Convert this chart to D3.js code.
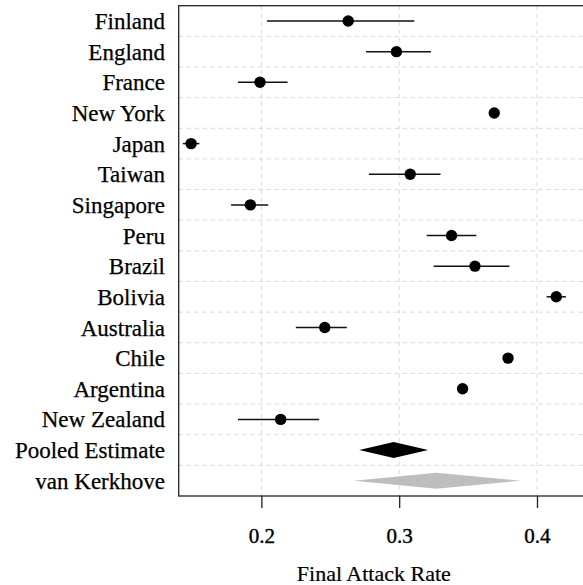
<!DOCTYPE html>
<html>
<head>
<meta charset="utf-8">
<script src="https://cdn.jsdelivr.net/npm/d3@7"></script>
<style>
  body { margin: 0; background: #fff; }
  text { font-family: "Liberation Serif", serif; fill: #000; }
</style>
</head>
<body>
<div id="chart"></div>
<script>
// study estimates
var studies = ["Finland", "England", "France", "New York", "Japan", "Taiwan", "Singapore",
               "Peru", "Brazil", "Bolivia", "Australia", "Chile", "Argentina", "New Zealand"];
var estimate = [0.263, 0.298, 0.199, 0.369, 0.149, 0.308, 0.192, 0.338, 0.355, 0.414, 0.246, 0.379, 0.346, 0.214];
var lower    = [0.204, 0.276, 0.183, 0.368, 0.143, 0.278, 0.178, 0.320, 0.325, 0.407, 0.225, 0.378, 0.345, 0.183];
var upper    = [0.311, 0.323, 0.219, 0.370, 0.155, 0.330, 0.205, 0.356, 0.380, 0.421, 0.262, 0.380, 0.347, 0.242];

// summary diamonds
var pooled = ["Pooled Estimate", "van Kerkhove"];
var pooledEst = [0.296, 0.327];
var pooledLo  = [0.271, 0.267];
var pooledHi  = [0.321, 0.388];
var pooledCol = ["#000000", "#bebebe"];

var ticks = [0.2, 0.3, 0.4];
var xTitle = "Final Attack Rate";

var W = 583, H = 585;
var plotL = 178.7, plotT = 5.7, plotB = 496;

var svg = d3.select("#chart").append("svg").attr("width", W).attr("height", H);

var x = d3.scaleLinear().domain([0.14, 0.44]).range([plotL, plotL + 0.3 * 1378]);
var y = d3.scaleBand().domain(studies.concat(pooled)).range([plotT, plotB]);
var bw = y.bandwidth();

// grid
var grid = svg.append("g");
y.domain().slice(1).forEach(function(d){
    grid.append("line")
      .attr("x1", plotL).attr("x2", W)
      .attr("y1", y(d)).attr("y2", y(d))
      .style("stroke", "#d6d6d6").style("stroke-dasharray", "4,4");
});
ticks.forEach(function(t){
    grid.append("line")
      .attr("x1", x(t)).attr("x2", x(t))
      .attr("y1", plotT).attr("y2", plotB)
      .style("stroke", "#d6d6d6").style("stroke-dasharray", "4,4");
});

// error bars + points
var g = svg.append("g");
studies.forEach(function(s, i){
    var cy = y(s) + bw / 2;
    g.append("line")
      .attr("x1", x(lower[i])).attr("x2", x(upper[i]))
      .attr("y1", cy).attr("y2", cy)
      .style("stroke", "#111").style("stroke-width", 1.5);
    g.append("circle")
      .attr("cx", x(estimate[i])).attr("cy", cy).attr("r", 5.7)
      .style("fill", "#000");
});

pooled.forEach(function(s, i){
    var cy = y(s) + bw / 2, h = 8;
    var pts = [[x(pooledLo[i]), cy], [x(pooledEst[i]), cy - h], [x(pooledHi[i]), cy], [x(pooledEst[i]), cy + h]];
    g.append("path")
      .attr("d", d3.line()(pts) + "Z")
      .style("fill", pooledCol[i]);
});

// box (right edge falls outside the window)
svg.append("rect")
  .attr("x", plotL).attr("y", plotT)
  .attr("width", W + 20 - plotL).attr("height", plotB - plotT)
  .style("fill", "none").style("stroke", "#222").style("stroke-width", 1.3);

// y labels
svg.append("g").selectAll("text")
  .data(y.domain())
  .enter().append("text")
  .attr("x", 165)
  .attr("y", function(d){ return y(d) + bw / 2; })
  .attr("dy", "0.35em")
  .attr("text-anchor", "end")
  .style("font-size", "23px")
  .style("stroke", "#000").style("stroke-width", 0.25)
  .text(function(d){ return d; });

// x axis
var xAxis = svg.append("g")
  .attr("transform", "translate(0," + plotB + ")")
  .call(d3.axisBottom(x).tickValues(ticks).tickSize(12).tickPadding(20).tickFormat(d3.format(".1f")));
xAxis.select(".domain").remove();
xAxis.selectAll(".tick line").style("stroke", "#222").style("stroke-width", 1.3);
xAxis.selectAll(".tick text")
  .style("font-family", "Liberation Serif, serif")
  .style("font-size", "21px").style("fill", "#000")
  .style("stroke", "#000").style("stroke-width", 0.4);

svg.append("text")
  .attr("x", (plotL + W) / 2 - 7)
  .attr("y", 573)
  .attr("dy", "0.35em")
  .attr("text-anchor", "middle")
  .style("font-size", "22px")
  .style("stroke", "#000").style("stroke-width", 0.2)
  .text(xTitle);
</script>
</body>
</html>
